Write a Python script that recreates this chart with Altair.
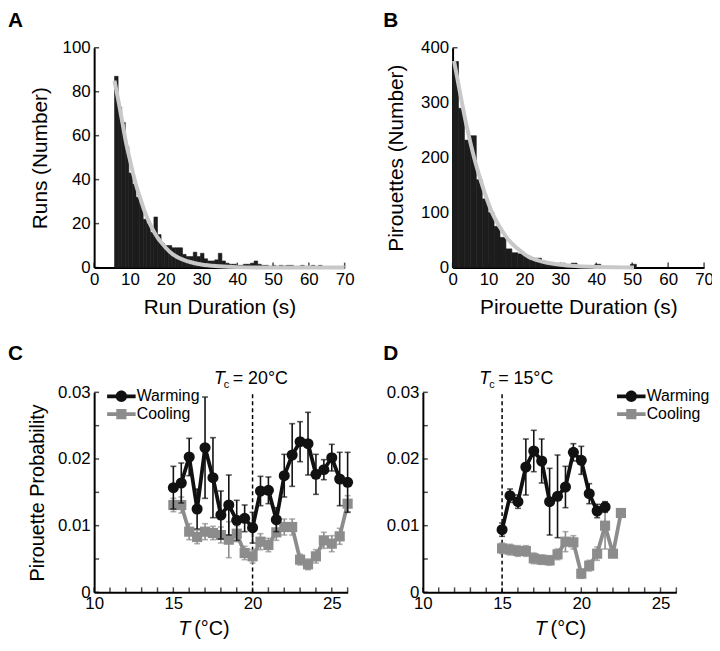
import altair as alt
import pandas as pd

FONT = "Liberation Sans"
BAR = "#1c1c1c"
FIT = "#c8c8c8"
WARM = "#111111"
COOL = "#8c8c8c"

# ---------------- Panel A : run durations ----------------
a_bin_start = 5.7
a_bin_width = 1.0
a_counts = [87, 73, 66, 55, 43, 38, 32, 29, 22, 20, 16, 23, 15, 11, 10, 10, 9, 9, 9, 6,
            5, 5, 7, 5, 6.5, 4, 3, 3, 3.5, 6.5, 3, 2, 1.5, 1.5, 1, 1, 1.5, 1.5, 2, 3,
            1.5, 1, 1, 0.5, 1, 0.5, 1, 0.7, 1, 1, 0.5, 0.5, 1, 0, 0.5, 1, 0, 1, 0, 0,
            0.5, 0, 0, 0]
a_fit_x = [5.7, 7, 8, 9, 10, 11, 12, 13, 14, 15, 16, 17, 18, 19, 20, 22, 25, 30, 35, 40, 50, 70]
a_fit_y = [85, 74, 65, 56, 49, 42, 36, 31, 26, 22, 18.5, 15.5, 13, 11, 9, 6, 3.5, 1.4, 0.6, 0.2, 0, 0]

# ---------------- Panel B : pirouette durations ----------------
b_bin_start = 0.0
b_bin_width = 1.65
b_counts = [375, 290, 232, 240, 160, 125, 100, 75, 55, 34, 27, 25, 22, 16, 17, 10, 8, 6, 8, 4,
            8, 2, 2, 1.5, 6, 1, 1, 0.5, 0.5, 0.5, 6]
b_fit_x = [0.4, 2.6, 4, 6, 8, 11, 13, 15.6, 18, 21, 25, 30, 35, 40, 45, 50.5]
b_fit_y = [376, 300, 255, 200, 155, 100, 75, 50, 35, 20, 11, 5, 2.5, 1.2, 0.5, 0.2]

hist_x_ticks = [0, 10, 20, 30, 40, 50, 60, 70]
a_y_ticks = [0, 20, 40, 60, 80, 100]
b_y_ticks = [0, 100, 200, 300, 400]

# ---------------- Panel C : Tc = 20 ----------------
c_temp = [15, 15.5, 16, 16.5, 17, 17.5, 18, 18.5, 19, 19.5, 20, 20.5, 21, 21.5, 22, 22.5,
          23, 23.5, 24, 24.5, 25, 25.5, 26]
c_warm = [0.0157, 0.0164, 0.0203, 0.0125, 0.0217, 0.0172, 0.0116, 0.0131, 0.0108, 0.0111,
          0.0097, 0.0152, 0.0153, 0.0109, 0.0175, 0.0206, 0.0226, 0.0223, 0.0177, 0.0184,
          0.0202, 0.0170, 0.0165]
c_warm_err = [0.0032, 0.0030, 0.0028, 0.0030, 0.0076, 0.0060, 0.0036, 0.0045, 0.0030, 0.0020,
              0.0023, 0.0022, 0.0020, 0.0018, 0.0032, 0.0047, 0.0030, 0.0047, 0.0030, 0.0015,
              0.0020, 0.0040, 0.0045]
c_cool = [0.0131, 0.0131, 0.0091, 0.0083, 0.0091, 0.0089, 0.0086, 0.0079, 0.0088, 0.0059,
          0.0054, 0.0076, 0.0071, 0.0090, 0.0098, 0.0098, 0.0049, 0.0042, 0.0054, 0.0078,
          0.0073, 0.0084, 0.0133]
c_cool_err = [0.0010, 0.0012, 0.0012, 0.0010, 0.0012, 0.0010, 0.0012, 0.0027, 0.0012, 0.0010,
              0.0010, 0.0012, 0.0010, 0.0012, 0.0012, 0.0012, 0.0008, 0.0008, 0.0010, 0.0012,
              0.0012, 0.0012, 0.0012]
c_tc = 20

# ---------------- Panel D : Tc = 15 ----------------
d_temp_warm = [15, 15.5, 16, 16.5, 17, 17.5, 18, 18.5, 19, 19.5, 20, 20.5, 21, 21.5]
d_warm = [0.0094, 0.0145, 0.0136, 0.0188, 0.0212, 0.0197, 0.0136, 0.0144, 0.0158, 0.0210,
          0.0198, 0.0148, 0.0122, 0.0128]
d_warm_err = [0.0010, 0.0010, 0.0010, 0.0042, 0.0031, 0.0033, 0.0050, 0.0062, 0.0031, 0.0013,
              0.0021, 0.0015, 0.0010, 0.0008]
d_temp_cool = [15, 15.5, 16, 16.5, 17, 17.5, 18, 18.5, 19, 19.5, 20, 20.5, 21, 21.5, 22, 22.5]
d_cool = [0.0066, 0.0064, 0.0062, 0.0062, 0.0051, 0.0049, 0.0048, 0.0057, 0.0076, 0.0075,
          0.0028, 0.0040, 0.0058, 0.0100, 0.0058, 0.0119]
d_cool_err = [0.0008, 0.0008, 0.0008, 0.0008, 0.0008, 0.0007, 0.0007, 0.0008, 0.0015, 0.0010,
              0.0007, 0.0008, 0.0010, 0.0035, 0.0005, 0.0005]
d_tc = 15

t_label_ticks = [10, 15, 20, 25]
t_minor_ticks = list(range(10, 27))
p_label_ticks = [0, 0.01, 0.02, 0.03]
p_minor_ticks = [0, 0.005, 0.01, 0.015, 0.02, 0.025, 0.03]
series_names = ["Warming", "Cooling"]

# ---- layout (pixel boxes of each panel inside one 711 x 634 view) ----
W_TOT, H_TOT = 711, 634
BOX_A = (87, 340, 259, 37)    # x_left, x_right, y_bottom, y_top
BOX_B = (449, 703, 259, 37)
BOX_C = (87, 343, 587, 385)
BOX_D = (419, 675, 587, 385)

one = pd.DataFrame({"k": [0]})


def letter(txt, x, y):
    return alt.Chart(one).mark_text(text=txt, font=FONT, fontSize=21, fontWeight="bold",
                                    align="left", baseline="alphabetic", color="black").encode(
        x=alt.value(x), y=alt.value(y))


def inner_ticks(xvals, yvals, x_at, y_at):
    tx = alt.Chart(pd.DataFrame({"t": xvals})).mark_tick(
        orient="vertical", size=5, thickness=1.5, color="black", yOffset=-2.5).encode(
        x=alt.X("t:Q", axis=None), y=alt.YDatum(y_at, axis=None))
    ty = alt.Chart(pd.DataFrame({"t": yvals})).mark_tick(
        orient="horizontal", size=5, thickness=1.5, color="black", xOffset=2.5).encode(
        y=alt.Y("t:Q", axis=None), x=alt.XDatum(x_at, axis=None))
    return [tx, ty]


def hist_panel(box, let, let_x, counts, start, width, fit_x, fit_y, ymax, yvals, xtitle,
               ytitle, ytitle_pad):
    x0p, x1p, y0p, y1p = box
    x0 = [round(start + i * width, 4) for i in range(len(counts))]
    x1 = [round(v + width, 4) for v in x0]
    bars_df = pd.DataFrame({"x0": x0, "x1": x1, "n": counts})
    fit_df = pd.DataFrame({"fx": fit_x, "fy": fit_y})
    xs = alt.Scale(domain=[0, 70], range=[x0p, x1p], nice=False, zero=False)
    ys = alt.Scale(domain=[0, ymax], range=[y0p, y1p], nice=False, zero=False)
    main_x = alt.Axis(orient="bottom", values=hist_x_ticks, ticks=False, labelPadding=4,
                      domainWidth=2, title=xtitle, titlePadding=9, grid=False,
                      offset=y0p - H_TOT, labelFlush=False, labelOverlap=False,
                      labelBound=False)
    main_y = alt.Axis(orient="left", values=yvals, ticks=False, labelPadding=4, domainWidth=2,
                      title=ytitle, titlePadding=ytitle_pad, grid=False, offset=-x0p,
                      labelFlush=False, labelOverlap=False)
    base = alt.Chart(bars_df).mark_point(opacity=0).encode(
        x=alt.X("x0:Q", scale=xs, axis=main_x), y=alt.Y("n:Q", scale=ys, axis=main_y))
    bars = alt.Chart(bars_df).mark_rect(color=BAR, stroke=BAR, strokeWidth=0.6).encode(
        x=alt.X("x0:Q", axis=None), x2="x1:Q", y=alt.Y("n:Q", axis=None), y2=alt.datum(0))
    fit = alt.Chart(fit_df).mark_line(color=FIT, strokeWidth=4, interpolate="monotone").encode(
        x=alt.X("fx:Q", axis=None), y=alt.Y("fy:Q", axis=None))
    layers = [base] + inner_ticks(hist_x_ticks, yvals, 0, 0) + [bars, fit,
                                                               letter(let, let_x, 16)]
    return alt.layer(*layers).resolve_axis(x="independent", y="independent")


def sym_path(kind):
    L, t, r, s = 1.8, 0.24, 0.72, 0.64
    bar = f"M-{L},-{t}L{L},-{t}L{L},{t}L-{L},{t}Z"
    if kind == "circle":
        mk = f"M{r},0A{r},{r} 0 1,1 -{r},0A{r},{r} 0 1,1 {r},0Z"
    else:
        mk = f"M-{s},-{s}L{s},-{s}L{s},{s}L-{s},{s}Z"
    return bar + mk


def prob_panel(box, let, let_x, tw, warm, warm_err, tcl, cool, cool_err, tc, ytitle, legend_x,
               tc_dx, xt_x):
    x0p, x1p, y0p, y1p = box
    dfw = pd.DataFrame({"T": tw, "p": warm,
                        "lo": [v - e for v, e in zip(warm, warm_err)],
                        "hi": [v + e for v, e in zip(warm, warm_err)],
                        "series": "Warming"})
    dfc = pd.DataFrame({"T": tcl, "p": cool,
                        "lo": [v - e for v, e in zip(cool, cool_err)],
                        "hi": [v + e for v, e in zip(cool, cool_err)],
                        "series": "Cooling"})
    both = pd.concat([dfw, dfc], ignore_index=True)

    xs = alt.Scale(domain=[10, 26], range=[x0p, x1p], nice=False, zero=False)
    ys = alt.Scale(domain=[0, 0.03], range=[y0p, y1p], nice=False, zero=False)
    main_x = alt.Axis(orient="bottom", values=t_label_ticks, ticks=False, labelPadding=3,
                      domainWidth=2, title=None, grid=False, format="d", offset=y0p - H_TOT,
                      labelFlush=False, labelOverlap=False)
    yargs = dict(title=ytitle, titlePadding=10, titleFontSize=20) if ytitle else dict(title=None)
    main_y = alt.Axis(orient="left", values=p_label_ticks, ticks=False, labelPadding=4,
                      domainWidth=2, grid=False, offset=-x0p, labelFlush=False,
                      labelOverlap=False,
                      labelExpr="datum.value == 0 ? '0' : format(datum.value, '.2f')", **yargs)
    base = alt.Chart(both).mark_point(opacity=0).encode(
        x=alt.X("T:Q", scale=xs, axis=main_x), y=alt.Y("p:Q", scale=ys, axis=main_y))
    dash = alt.Chart(one).mark_rule(color="black", strokeWidth=1.5, strokeDash=[4, 3]).encode(
        x=alt.XDatum(tc, axis=None), y=alt.YDatum(0, axis=None), y2=alt.datum(0.03))

    layers = [base] + inner_ticks(t_minor_ticks, p_minor_ticks, 10, 0) + [dash]
    for df, col, mark in ((dfc, COOL, "square"), (dfw, WARM, "circle")):
        ch = alt.Chart(df)
        X = alt.X("T:Q", axis=None)
        layers.append(ch.mark_rule(color=col, strokeWidth=1.6).encode(
            x=X, y=alt.Y("lo:Q", axis=None), y2="hi:Q"))
        layers.append(ch.mark_tick(color=col, thickness=1.6, size=6, orient="horizontal").encode(
            x=X, y=alt.Y("lo:Q", axis=None)))
        layers.append(ch.mark_tick(color=col, thickness=1.6, size=6, orient="horizontal").encode(
            x=X, y=alt.Y("hi:Q", axis=None)))
        layers.append(ch.mark_line(color=col, strokeWidth=3.8).encode(
            x=X, y=alt.Y("p:Q", axis=None)))
        if mark == "circle":
            layers.append(ch.mark_circle(color=col, size=125, opacity=1).encode(
                x=X, y=alt.Y("p:Q", axis=None)))
        else:
            layers.append(ch.mark_square(color=col, size=105, opacity=1).encode(
                x=X, y=alt.Y("p:Q", axis=None)))

    leg = alt.Legend(title=None, orient="none", legendX=legend_x, legendY=y1p - 4, padding=0,
                     labelFont=FONT, labelFontSize=16, labelColor="black", labelOffset=7.5,
                     symbolSize=256, symbolStrokeWidth=0, symbolOpacity=1, rowPadding=2,
                     labelBaseline="middle")
    layers.append(alt.Chart(both).mark_point(filled=True, opacity=0).encode(
        x=alt.X("T:Q", axis=None), y=alt.Y("p:Q", axis=None),
        color=alt.Color("series:N", scale=alt.Scale(domain=series_names, range=[WARM, COOL]),
                        legend=leg),
        shape=alt.Shape("series:N", scale=alt.Scale(domain=series_names,
                                                    range=[sym_path("circle"), sym_path("square")]),
                        legend=leg)))

    def tc_text(txt, size, dx, dy, style="normal"):
        return alt.Chart(one).mark_text(text=txt, font=FONT, fontSize=size, fontStyle=style,
                                        align="left", baseline="alphabetic", dx=dx, dy=dy,
                                        color="black").encode(
            x=alt.XDatum(tc, axis=None), y=alt.YDatum(0.03, axis=None))

    layers.append(tc_text("T", 18, tc_dx, -8, "italic"))
    layers.append(tc_text("c", 11, tc_dx + 10, -4))
    layers.append(tc_text(f"= {tc}°C", 18, tc_dx + 19, -8))
    layers.append(alt.Chart(one).mark_text(text="T", font=FONT, fontSize=20, fontStyle="italic",
                                           align="left", baseline="alphabetic",
                                           color="black").encode(x=alt.value(xt_x),
                                                                 y=alt.value(y0p + 43)))
    layers.append(alt.Chart(one).mark_text(text="(°C)", font=FONT, fontSize=20, align="left",
                                           baseline="alphabetic",
                                           color="black").encode(x=alt.value(xt_x + 16),
                                                                 y=alt.value(y0p + 43)))
    layers.append(letter(let, let_x, y1p - 33))
    return alt.layer(*layers).resolve_axis(x="independent", y="independent")


chart_a = hist_panel(BOX_A, "A", 0, a_counts, a_bin_start, a_bin_width, a_fit_x, a_fit_y, 100,
                     a_y_ticks, "Run Duration (s)", "Runs (Number)", 12)
chart_b = hist_panel(BOX_B, "B", 379, b_counts, b_bin_start, b_bin_width, b_fit_x, b_fit_y, 400,
                     b_y_ticks, "Pirouette Duration (s)", "Pirouettes (Number)", 14)
chart_c = prob_panel(BOX_C, "C", 0, c_temp, c_warm, c_warm_err, c_temp, c_cool, c_cool_err,
                     c_tc, "Pirouette Probability", 106.5, -39, 172)
chart_d = prob_panel(BOX_D, "D", 379, d_temp_warm, d_warm, d_warm_err, d_temp_cool, d_cool,
                     d_cool_err, d_tc, None, 621.5, -23, 532)

chart = alt.layer(chart_a, chart_b, chart_c, chart_d).resolve_scale(
    x="independent", y="independent", color="independent", shape="independent").resolve_axis(
    x="independent", y="independent").resolve_legend(
    color="independent", shape="independent").properties(
    width=W_TOT, height=H_TOT, autosize=alt.AutoSizeParams(type="none"), padding=0
).configure_axis(
    labelFont=FONT, titleFont=FONT, labelColor="black", titleColor="black",
    domainColor="black", tickColor="black", titleFontWeight="normal", labelFontSize=17,
    titleFontSize=21).configure_view(stroke=None)

chart.save("out.html", embed_options={"renderer": "svg", "actions": False})
